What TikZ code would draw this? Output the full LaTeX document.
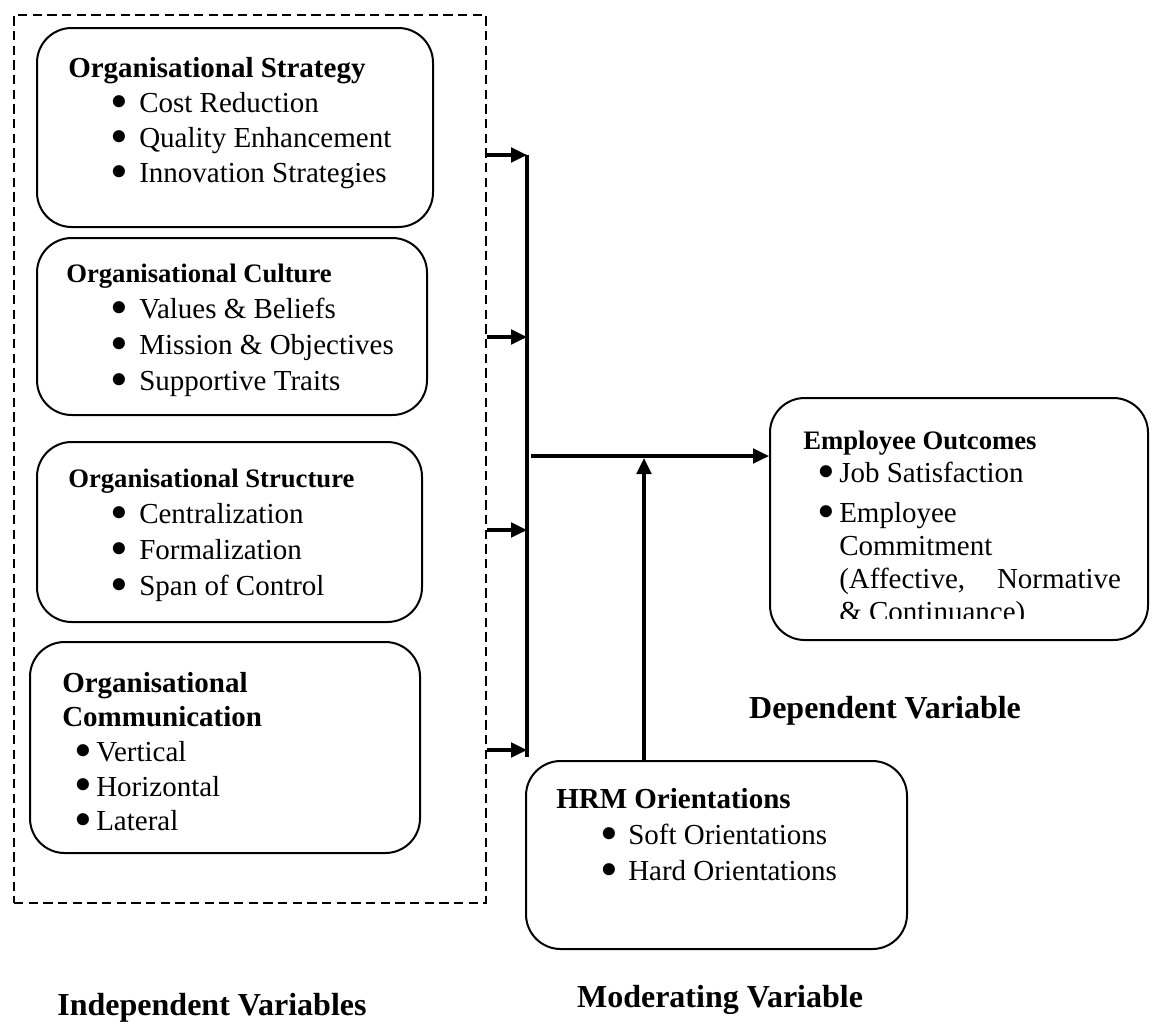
\documentclass[tikz,border=0pt]{standalone}
\usepackage{fontspec}
\setmainfont{Liberation Serif}
\usetikzlibrary{positioning,arrows.meta,fit,calc}
\newcommand{\itm}[3]{\hspace*{#1}\makebox[#2][l]{\smash{\raisebox{-0.2em}{\scalebox{1.75}{\textbullet}}}}#3}

\begin{document}
\begin{tikzpicture}[x=0.75pt,y=-0.75pt,
	box/.style={draw=black,line width=1.5pt,rounded corners=26pt,inner sep=0pt},
	lst/.style={anchor=north west,align=left,inner sep=0pt,font=\fontsize{21.75}{26.25}\selectfont},
	lnk/.style={line width=2.4pt,-{Triangle[length=12pt,width=11pt]}},
	lbl/.style={font=\fontsize{24}{28}\selectfont\bfseries}]
	\useasboundingbox (0,0) rectangle (1152,1021);
	%% Independent variables
	\node (indep) [draw=black,line width=1.6pt,dash pattern=on 7pt off 4pt,inner sep=0pt,fit={(14,15) (486,903)}] {};
	
	\node (strat) [box,fit={(37,28) (433,227)}] {};
	\node (strattxt) [lst] at (68,57)
	{{\bfseries Organisational Strategy}\\
	 \itm{31.5pt}{21.75pt}{Cost Reduction}\\
	 \itm{31.5pt}{21.75pt}{Quality Enhancement}\\
	 \itm{31.5pt}{21.75pt}{Innovation Strategies}};
	
	\node (cult) [box,fit={(37,238) (427,415)}] {};
	\node (culttxt) [lst,font=\fontsize{21.75}{27}\selectfont] at (66,264)
	{{\fontsize{20}{27}\selectfont\bfseries Organisational Culture}\\
	 \itm{33pt}{21.75pt}{Values \& Beliefs}\\
	 \itm{33pt}{21.75pt}{Mission \& Objectives}\\
	 \itm{33pt}{21.75pt}{Supportive Traits}};
	
	\node (struc) [box,fit={(37,442) (422,622)}] {};
	\node (structxt) [lst,font=\fontsize{21.75}{27}\selectfont] at (68,469)
	{{\fontsize{20}{27}\selectfont\bfseries Organisational Structure}\\
	 \itm{31.5pt}{21.75pt}{Centralization}\\
	 \itm{31.5pt}{21.75pt}{Formalization}\\
	 \itm{31.5pt}{21.75pt}{Span of Control}};
	
	\node (comm) [box,fit={(30,642) (420,853)}] {};
	\node (commtxt) [lst,font=\fontsize{21.75}{25.9}\selectfont] at (62,672)
	{{\bfseries Organisational}\\
	 {\bfseries Communication}\\
	 \itm{9pt}{16.5pt}{Vertical}\\
	 \itm{9pt}{16.5pt}{Horizontal}\\
	 \itm{9pt}{16.5pt}{Lateral}};
	
	%% Dependent variable
	\node (emp) [box,fit={(770,398) (1148,640)}] {};
	\begin{scope}
		\clip (770,398) rectangle (1148,618);
		\node (emptxt) [lst,font=\fontsize{21.75}{24.75}\selectfont] at (803,431)
		{{\fontsize{20}{24.75}\selectfont\bfseries Employee Outcomes}\\
		 \itm{11pt}{16pt}{Job Satisfaction}\\[5pt]
		 \itm{11pt}{16pt}{Employee}\\
		 \hspace*{27pt}Commitment\\
		 \hspace*{27pt}(Affective,\hspace{1.1em}Normative\\
		 \hspace*{27pt}\&~Continuance)};
	\end{scope}
	
	%% Moderating variable
	\node (hrm) [box,fit={(526,761) (907,949)}] {};
	\node (hrmtxt) [lst,font=\fontsize{21.75}{27}\selectfont] at (556,788)
	{{\bfseries HRM Orientations}\\
	 \itm{33pt}{21pt}{Soft Orientations}\\
	 \itm{33pt}{21pt}{Hard Orientations}};
	
	%% Connectors
	\coordinate (j1) at (527,155);
	\coordinate (j2) at (527,337);
	\coordinate (j3) at (527,530);
	\coordinate (j4) at (527,750);
	\coordinate (barend) at (527,757);
	\draw[line width=2.4pt] (j1) -- (barend);
	\foreach \j in {j1,j2,j3,j4}
		\draw[lnk] (indep.east |- \j) -- (\j);
	
	\coordinate (jout) at (531,456);
	\draw[lnk] (jout) -- (jout -| emp.west);
	
	\coordinate (mod) at (644,458);
	\draw[lnk] (mod |- hrm.north) -- (mod);
	
	%% Labels
	\node (deplbl) [lbl] at (885,711) {Dependent Variable};
	\node (modlbl) [lbl] at (720,1000) {Moderating Variable};
	\node (indlbl) [lbl] at (212,1008) {Independent Variables};
\end{tikzpicture}
\end{document}
